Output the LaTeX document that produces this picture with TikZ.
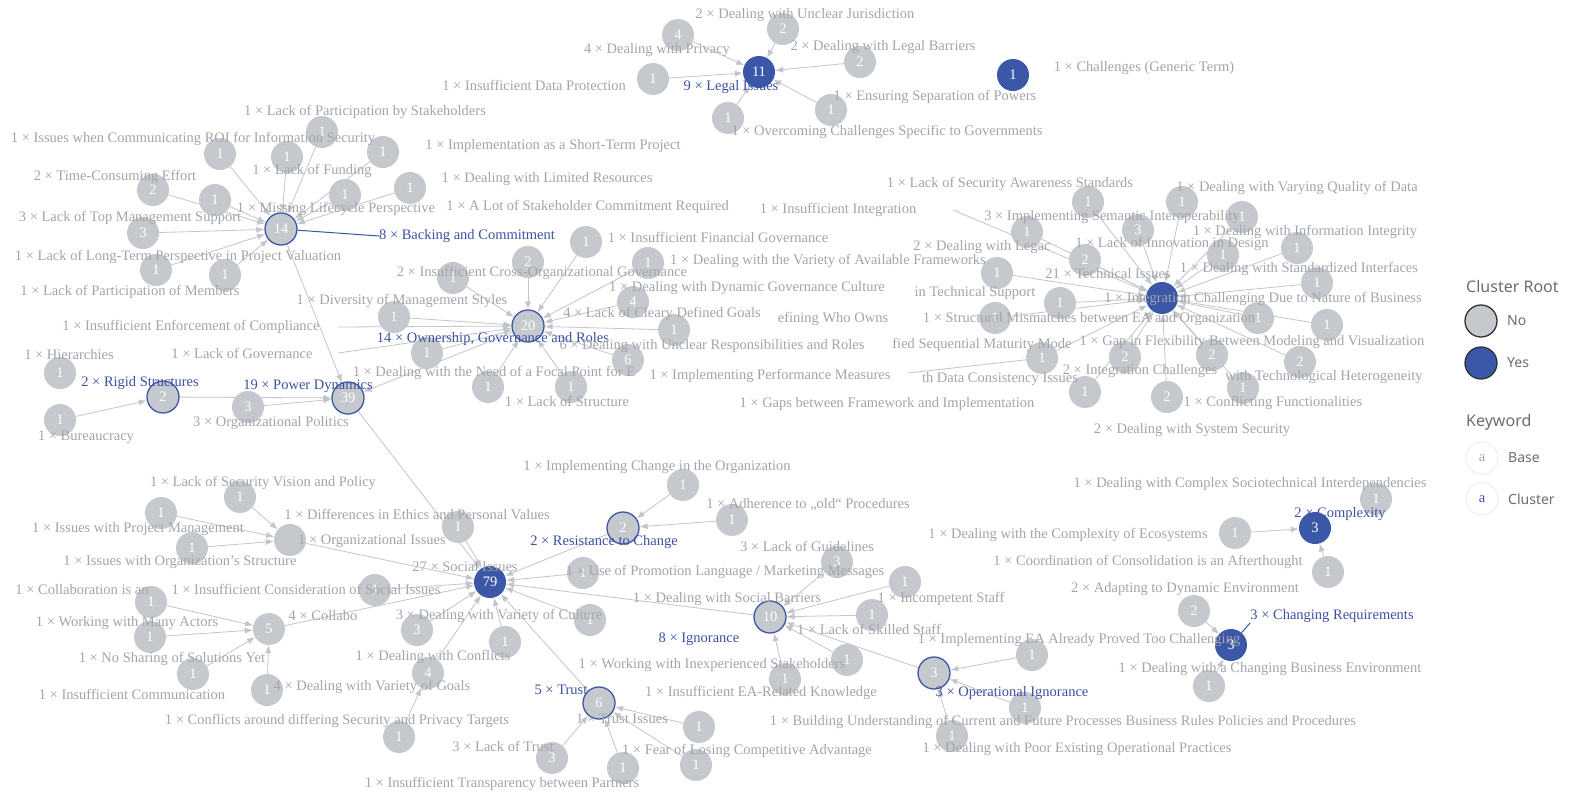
\documentclass[tikz,border=0pt]{standalone}
\usepackage{fontspec}
\setmainfont{Liberation Serif}
\newfontfamily\legendfont{Noto Sans}
\usetikzlibrary{arrows.meta}
\definecolor{kwgray}{HTML}{C5C8CC}
\definecolor{txtgray}{HTML}{A2A5A9}
\definecolor{edgegray}{HTML}{C2C5C9}
\definecolor{rootblue}{HTML}{3B57A7}
\definecolor{lblblue}{HTML}{3E52A4}
\definecolor{legtext}{HTML}{6A6E72}
\definecolor{legline}{HTML}{2E3236}
\pgfdeclarelayer{bg}
\pgfdeclarelayer{edgelayer}
\pgfsetlayers{bg,edgelayer,main}
\tikzset{
  >=Latex,
  every node/.style={font=\fontsize{14.5}{16}\selectfont,text=txtgray},
  kw/.style={circle,fill=kwgray,minimum size=32pt,inner sep=0pt,text=white,font=\fontsize{14.5}{16}\selectfont},
  root/.style={kw,fill=rootblue},
  hub/.style={kw,draw=rootblue,line width=1.3pt},
  lbl/.style={inner sep=0pt},
  clbl/.style={lbl,text=lblblue},
  edge/.style={-{Latex[length=8pt,width=6pt]},draw=edgegray,line width=0.8pt},
  plain/.style={draw=edgegray,line width=0.8pt},
  cedge/.style={draw=rootblue,line width=1pt},
  legcirc/.style={circle,minimum size=32pt,inner sep=0pt,line width=1.3pt,draw=legline},
  legtxt/.style={font=\legendfont\fontsize{14}{16}\selectfont,text=legtext,anchor=west,inner sep=0pt},
  leghead/.style={font=\legendfont\fontsize{16}{18}\selectfont,text=legtext,anchor=west,inner sep=0pt}
}
\begin{document}
\begin{tikzpicture}[x=1pt,y=-1pt]
  \useasboundingbox (0,0) rectangle (1591,793);
  \begin{pgfonlayer}{bg}
    \fill[white] (0,0) rectangle (1591,793);
  \end{pgfonlayer}

  % legal issues
  \node[root] (legal) at (759,72) {11};
  \node[kw] (privacy) at (678,35) {4};
  \node[kw] (jurisd) at (783,29) {2};
  \node[kw] (barriers) at (860,62) {2};
  \node[kw] (dataprot) at (653,79) {1};
  \node[kw] (govspec) at (728,118) {1};
  \node[kw] (powers) at (831,110) {1};
  \node[root] (generic) at (1013,75) {1};

  % backing and commitment
  \node[hub] (backing) at (281,229) {14};
  \node[kw] (roi) at (220,154) {1};
  \node[kw] (funding) at (287,157) {1};
  \node[kw] (partstake) at (322,132) {1};
  \node[kw] (shortterm) at (383,152) {1};
  \node[kw] (timecons) at (153,190) {2};
  \node[kw] (lifecycle) at (215,200) {1};
  \node[kw] (stakecommit) at (345,195) {1};
  \node[kw] (limres) at (410,188) {1};
  \node[kw] (topmgmt) at (143,233) {3};
  \node[kw] (longterm) at (156,270) {1};
  \node[kw] (partmem) at (225,275) {1};

  % ownership, governance and roles
  \node[hub] (owner) at (528,326) {20};
  \node[kw] (finance) at (586,242) {1};
  \node[kw] (crossorg) at (528,262) {2};
  \node[kw] (frameworks) at (648,263) {1};
  \node[kw] (mgmtstyle) at (453,278) {1};
  \node[kw] (diversity) at (394,317) {1};
  \node[kw] (lackgov) at (427,353) {1};
  \node[kw] (focal) at (488,387) {1};
  \node[kw] (structure) at (571,387) {1};
  \node[kw] (goals) at (633,302) {4};
  \node[kw] (dyncult) at (674,330) {1};
  \node[kw] (unclear) at (628,360) {6};
  \coordinate (enforce) at (338,327);
  \coordinate (govstub) at (338,353);

  % power dynamics
  \node[hub] (power) at (348,398) {39};
  \node[hub] (rigid) at (163,397) {2};
  \node[kw] (hier) at (60,373) {1};
  \node[kw] (bureau) at (60,420) {1};
  \node[kw] (politics) at (248,407) {3};

  % technical issues
  \node[root] (tech) at (1162,298) {};
  \node[kw] (secaware) at (1088,202) {1};
  \node[kw] (varyqual) at (1182,202) {1};
  \node[kw] (dataqual) at (1242,217) {1};
  \node[kw] (insuffint) at (1027,232) {1};
  \node[kw] (semantic) at (1138,230) {3};
  \node[kw] (infointeg) at (1297,248) {1};
  \node[kw] (innov) at (1223,255) {1};
  \node[kw] (legacy) at (1085,260) {2};
  \node[kw] (techsupp) at (997,273) {1};
  \node[kw] (stdint) at (1317,283) {1};
  \node[kw] (whoowns) at (1060,303) {1};
  \node[kw] (structmis) at (995,318) {1};
  \node[kw] (nature) at (1258,318) {1};
  \node[kw] (modelvis) at (1327,325) {1};
  \node[kw] (maturity) at (1042,358) {1};
  \node[kw] (integch) at (1125,357) {2};
  \node[kw] (flexgap) at (1212,355) {2};
  \node[kw] (techhet) at (1300,362) {2};
  \node[kw] (conflfunc) at (1243,388) {1};
  \node[kw] (consist) at (1085,392) {1};
  \node[kw] (syssec) at (1167,397) {2};
  \coordinate (intstub) at (953,210);
  \coordinate (perfstub) at (908,373);

  % social issues
  \node[root] (social) at (490,582) {79};
  \node[kw] (secvision) at (240,497) {1};
  \node[kw] (projmgmt) at (161,513) {1};
  \node[kw] (orgissues) at (290,540) {};
  \node[kw] (orgstruct) at (192,548) {1};
  \node[kw] (ethics) at (458,527) {1};
  \node[kw] (socconsid) at (375,590) {1};
  \node[kw] (collab) at (269,629) {5};
  \node[kw] (collabis) at (151,602) {1};
  \node[kw] (actors) at (150,637) {1};
  \node[kw] (nosharing) at (193,674) {1};
  \node[kw] (commun) at (267,690) {1};
  \node[kw] (culture) at (417,630) {3};
  \node[kw] (conflicts) at (505,642) {1};
  \node[kw] (goalsvar) at (428,673) {4};
  \node[kw] (sectargets) at (399,737) {1};
  \node[kw] (promo) at (583,573) {1};
  \node[kw] (socbarr) at (590,620) {1};
  \node[hub] (resist) at (623,528) {2};
  \node[kw] (implchange) at (683,485) {1};
  \node[kw] (oldproc) at (732,520) {1};

  % ignorance
  \node[hub] (ignor) at (770,617) {10};
  \node[kw] (guidelines) at (837,562) {3};
  \node[kw] (incomp) at (905,582) {1};
  \node[kw] (skilled) at (872,615) {1};
  \node[kw] (inexp) at (847,660) {1};
  \node[kw] (eaknow) at (785,679) {1};
  \node[hub] (operig) at (934,673) {3};
  \node[kw] (provedchall) at (1032,655) {1};
  \node[kw] (buildund) at (1025,708) {1};
  \node[kw] (poorprac) at (952,736) {1};

  % trust
  \node[hub] (trust) at (599,703) {6};
  \node[kw] (trustiss) at (699,727) {1};
  \node[kw] (lacktrust) at (552,758) {3};
  \node[kw] (transp) at (623,768) {1};
  \node[kw] (fear) at (696,765) {1};

  % complexity and changing requirements
  \node[root] (complexity) at (1315,528) {3};
  \node[kw] (ecosys) at (1235,533) {1};
  \node[kw] (coord) at (1328,572) {1};
  \node[kw] (sociotech) at (1376,499) {1};
  \node[root] (changereq) at (1231,645) {3};
  \node[kw] (adapt) at (1194,611) {2};
  \node[kw] (changebiz) at (1209,686) {1};

  % labels
  \node[clbl] (legalL) at (731,87) {9 × Legal Issues};
  \node[lbl] (privacyL) at (657,50) {4 × Dealing with Privacy};
  \node[lbl] (jurisdL) at (805,15) {2 × Dealing with Unclear Jurisdiction};
  \node[lbl] (barriersL) at (883,47) {2 × Dealing with Legal Barriers};
  \node[lbl,anchor=east] (dataprotL) at (626,85) {1 × Insufficient Data Protection};
  \node[lbl] (powersL) at (935,97) {1 × Ensuring Separation of Powers};
  \node[lbl] (govspecL) at (887,132) {1 × Overcoming Challenges Specific to Governments};
  \node[lbl] (genericL) at (1144,68) {1 × Challenges (Generic Term)};

  \node[clbl] (backingL) at (467,236) {8 × Backing and Commitment};
  \node[lbl] (roiL) at (193,139) {1 × Issues when Communicating ROI for Information Security};
  \node[lbl] (fundingL) at (312,171) {1 × Lack of Funding};
  \node[lbl] (partstakeL) at (365,112) {1 × Lack of Participation by Stakeholders};
  \node[lbl] (shorttermL) at (553,146) {1 × Implementation as a Short-Term Project};
  \node[lbl] (timeconsL) at (115,177) {2 × Time-Consuming Effort};
  \node[lbl] (lifecycleL) at (336,209) {1 × Missing Lifecycle Perspective};
  \node[lbl] (limresL) at (547,179) {1 × Dealing with Limited Resources};
  \node[lbl,anchor=east] (stakecommitL) at (729,207) {1 × A Lot of Stakeholder Commitment Required};
  \node[lbl] (topmgmtL) at (130,218) {3 × Lack of Top Management Support};
  \node[lbl] (longtermL) at (178,257) {1 × Lack of Long-Term Perspective in Project Valuation};
  \node[lbl] (partmemL) at (130,292) {1 × Lack of Participation of Members};

  \node[clbl] (ownerL) at (493,339) {14 × Ownership, Governance and Roles};
  \node[lbl] (financeL) at (718,237) {1 × Insufficient Financial Governance};
  \node[lbl] (crossorgL) at (542,273) {2 × Insufficient Cross-Organizational Governance};
  \node[lbl] (frameworksL) at (828,261) {1 × Dealing with the Variety of Available Frameworks};
  \node[lbl] (diversityL) at (402,301) {1 × Diversity of Management Styles};
  \node[lbl] (enforceL) at (191,327) {1 × Insufficient Enforcement of Compliance};
  \node[lbl] (lackgovL) at (242,353) {1 × Lack of Governance};
  \node[lbl] (focalL) at (494,373) {1 × Dealing with the Need of a Focal Point for E};
  \node[lbl] (structureL) at (567,401) {1 × Lack of Structure};
  \node[lbl] (dyncultL) at (747,288) {1 × Dealing with Dynamic Governance Culture};
  \node[lbl] (goalsL) at (662,314) {4 × Lack of Cleary Defined Goals};
  \node[lbl] (unclearL) at (712,346) {6 × Dealing with Unclear Responsibilities and Roles};
  \node[lbl] (perfL) at (770,376) {1 × Implementing Performance Measures};
  \node[lbl] (whoownsL) at (833,319) {efining Who Owns};
  \node[lbl] (gapsL) at (887,404) {1 × Gaps between Framework and Implementation};

  \node[clbl] (powerL) at (308,386) {19 × Power Dynamics};
  \node[clbl] (rigidL) at (140,383) {2 × Rigid Structures};
  \node[lbl] (hierL) at (69,355) {1 × Hierarchies};
  \node[lbl] (bureauL) at (86,437) {1 × Bureaucracy};
  \node[lbl] (politicsL) at (271,423) {3 × Organizational Politics};

  \node[lbl] (secawareL) at (1010,184) {1 × Lack of Security Awareness Standards};
  \node[lbl] (insuffintL) at (838,210) {1 × Insufficient Integration};
  \node[lbl] (semanticL) at (1112,217) {3 × Implementing Semantic Interoperability};
  \node[lbl] (varyqualL) at (1297,188) {1 × Dealing with Varying Quality of Data};
  \node[lbl] (innovL) at (1172,244) {1 × Lack of Innovation in Design};
  \node[lbl] (legacyL) at (982,247) {2 × Dealing with Legac};
  \node[lbl] (infointegL) at (1305,232) {1 × Dealing with Information Integrity};
  \node[lbl] (stdintL) at (1299,269) {1 × Dealing with Standardized Interfaces};
  \node[lbl] (techL) at (1108,274) {21 × Technical Issues};
  \node[lbl] (techsuppL) at (975,293) {in Technical Support};
  \node[lbl] (natureL) at (1263,299) {1 × Integration Challenging Due to Nature of Business};
  \node[lbl] (structmisL) at (1089,319) {1 × Structural Mismatches between EA and Organization};
  \node[lbl] (modelvisL) at (1252,342) {1 × Gap in Flexibility Between Modeling and Visualization};
  \node[lbl] (maturityL) at (982,345) {fied Sequential Maturity Mode};
  \node[lbl] (consistL) at (1000,379) {th Data Consistency Issues};
  \node[lbl] (integchL) at (1140,371) {2 × Integration Challenges};
  \node[lbl] (techhetL) at (1324,377) {with Technological Heterogeneity};
  \node[lbl] (conflfuncL) at (1273,403) {1 × Conflicting Functionalities};
  \node[lbl] (syssecL) at (1192,430) {2 × Dealing with System Security};

  \node[lbl] (socialL) at (465,567) {27 × Social Issues};
  \node[lbl] (secvisionL) at (263,483) {1 × Lack of Security Vision and Policy};
  \node[lbl] (projmgmtL) at (138,529) {1 × Issues with Project Management};
  \node[lbl] (orgissuesL) at (372,541) {1 × Organizational Issues};
  \node[lbl] (orgstructL) at (180,562) {1 × Issues with Organization’s Structure};
  \node[lbl] (ethicsL) at (417,514) {1 × Differences in Ethics and Personal Values};
  \node[lbl] (socconsidL) at (306,589) {1 × Insufficient Consideration of Social Issues};
  \node[lbl] (collabL) at (323,616) {4 × Collabo};
  \node[lbl] (collabisL) at (82,590) {1 × Collaboration is an};
  \node[lbl] (actorsL) at (127,623) {1 × Working with Many Actors};
  \node[lbl] (nosharingL) at (172,659) {1 × No Sharing of Solutions Yet};
  \node[lbl] (communL) at (132,694) {1 × Insufficient Communication};
  \node[lbl] (cultureL) at (499,616) {3 × Dealing with Variety of Culture};
  \node[lbl] (conflictsL) at (433,657) {1 × Dealing with Conflicts};
  \node[lbl] (goalsvarL) at (372,687) {4 × Dealing with Variety of Goals};
  \node[lbl] (sectargetsL) at (337,721) {1 × Conflicts around differing Security and Privacy Targets};
  \node[lbl] (promoL) at (725,572) {1 × Use of Promotion Language / Marketing Messages};
  \node[lbl] (socbarrL) at (727,599) {1 × Dealing with Social Barriers};
  \node[clbl] (resistL) at (604,542) {2 × Resistance to Change};
  \node[lbl] (implchangeL) at (657,467) {1 × Implementing Change in the Organization};
  \node[lbl] (oldprocL) at (808,505) {1 × Adherence to „old“ Procedures};

  \node[clbl] (ignorL) at (699,639) {8 × Ignorance};
  \node[lbl] (guidelinesL) at (807,546) {3 × Lack of Guidelines};
  \node[lbl] (incompL) at (941,599) {1 × Incompetent Staff};
  \node[lbl] (skilledL) at (869,629) {1 × Lack of Skilled Staff};
  \node[lbl] (inexpL) at (712,665) {1 × Working with Inexperienced Stakeholders};
  \node[lbl] (eaknowL) at (761,693) {1 × Insufficient EA-Related Knowledge};
  \node[clbl] (operigL) at (1012,693) {3 × Operational Ignorance};
  \node[lbl] (provedchallL) at (1079,640) {1 × Implementing EA Already Proved Too Challenging};
  \node[lbl] (buildundL) at (1063,722) {1 × Building Understanding of Current and Future Processes Business Rules Policies and Procedures};
  \node[lbl] (poorpracL) at (1077,749) {1 × Dealing with Poor Existing Operational Practices};

  \node[clbl] (trustL) at (561,690) {5 × Trust};
  \node[lbl] (trustissL) at (622,719) {1 × Trust Issues};
  \node[lbl] (lacktrustL) at (503,746) {3 × Lack of Trust};
  \node[lbl] (transpL) at (502,784) {1 × Insufficient Transparency between Partners};
  \node[lbl] (fearL) at (747,751) {1 × Fear of Losing Competitive Advantage};

  \node[clbl] (complexityL) at (1340,514) {2 × Complexity};
  \node[lbl] (ecosysL) at (1068,535) {1 × Dealing with the Complexity of Ecosystems};
  \node[lbl] (coordL) at (1148,562) {1 × Coordination of Consolidation is an Afterthought};
  \node[lbl] (sociotechL) at (1250,484) {1 × Dealing with Complex Sociotechnical Interdependencies};
  \node[clbl] (changereqL) at (1332,616) {3 × Changing Requirements};
  \node[lbl] (adaptL) at (1185,589) {2 × Adapting to Dynamic Environment};
  \node[lbl] (changebizL) at (1270,669) {1 × Dealing with a Changing Business Environment};

  % legend
  \node[leghead] (rootH) at (1466,286) {Cluster Root};
  \node[legcirc,fill=kwgray] (noC) at (1481,321) {};
  \node[legtxt] (noT) at (1507,321) {No};
  \node[legcirc,fill=rootblue] (yesC) at (1481,363) {};
  \node[legtxt] (yesT) at (1507,363) {Yes};
  \node[leghead] (kwH) at (1466,422) {Keyword};
  \node[legcirc,draw=kwgray!35,line width=0.8pt,text=txtgray] (baseC) at (1482,458) {a};
  \node[legtxt] (baseT) at (1508,458) {Base};
  \node[legcirc,draw=rootblue!12,line width=0.8pt,text=lblblue] (clusC) at (1482,499) {a};
  \node[legtxt] (clusT) at (1508,499) {Cluster};

  \begin{pgfonlayer}{edgelayer}
    \foreach \s in {privacy,jurisd,barriers,dataprot,govspec,powers}
      \draw[edge] (\s) -- (legal);
    \foreach \s in {roi,funding,partstake,shortterm,timecons,lifecycle,stakecommit,limres,topmgmt,longterm,partmem}
      \draw[edge] (\s) -- (backing);
    \draw[cedge] (backing) -- (backingL.west);
    \foreach \s in {finance,crossorg,frameworks,mgmtstyle,diversity,lackgov,focal,structure,goals,dyncult,unclear,enforce,govstub}
      \draw[edge] (\s) -- (owner);
    \draw[edge] (bureau) -- (rigid);
    \foreach \s in {rigid,politics,backing,owner}
      \draw[edge] (\s) -- (power);
    \foreach \s in {secaware,varyqual,dataqual,insuffint,semantic,infointeg,innov,legacy,techsupp,stdint,whoowns,structmis,nature,modelvis,maturity,integch,flexgap,techhet,conflfunc,consist,syssec,intstub}
      \draw[edge] (\s) -- (tech);
    \draw[plain] (perfstub) -- (maturity);
    \foreach \s in {secvision,projmgmt,orgstruct}
      \draw[edge] (\s) -- (orgissues);
    \foreach \s in {collabis,actors,nosharing,commun}
      \draw[edge] (\s) -- (collab);
    \draw[edge] (sectargets) -- (goalsvar);
    \foreach \s in {implchange,oldproc}
      \draw[edge] (\s) -- (resist);
    \foreach \s in {power,orgissues,ethics,socconsid,collab,culture,conflicts,goalsvar,promo,socbarr,resist,ignor,trust}
      \draw[edge] (\s) -- (social);
    \foreach \s in {guidelines,incomp,skilled,inexp,eaknow,operig}
      \draw[edge] (\s) -- (ignor);
    \foreach \s in {provedchall,buildund,poorprac}
      \draw[edge] (\s) -- (operig);
    \foreach \s in {trustiss,lacktrust,transp,fear}
      \draw[edge] (\s) -- (trust);
    \foreach \s in {ecosys,coord}
      \draw[edge] (\s) -- (complexity);
    \foreach \s in {adapt,changebiz}
      \draw[edge] (\s) -- (changereq);
    \draw[cedge] (changereq) -- (changereqL.south west);
  \end{pgfonlayer}
\end{tikzpicture}
\end{document}
